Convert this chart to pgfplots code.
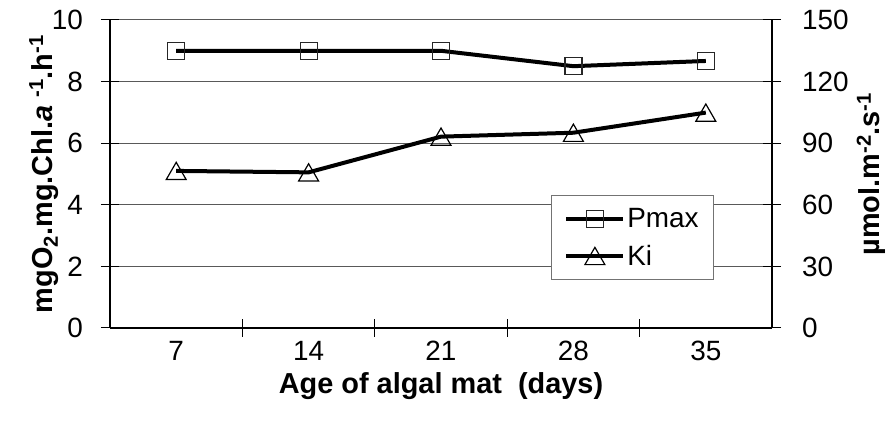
\documentclass[border=0pt]{standalone}
\usepackage{fontspec}
\setmainfont{Liberation Sans}
\usepackage{pgfplots}
\pgfplotsset{compat=1.18}
\begin{document}
\begin{tikzpicture}
\path[use as bounding box] (0bp,0bp) rectangle (890bp,432bp);
\pgfplotsset{
 common/.style={
  at={(110bp,104bp)}, anchor=south west,
  scale only axis, width=662bp, height=308bp,
  xmin=0.5, xmax=5.5,
  /pgf/number format/assume math mode=true,
  tick align=center, major tick length=18bp, minor tick length=18bp,
  every tick/.style={black, line width=1bp},
  axis line style={black, line width=1.2bp},
  tick label style={font=\fontsize{28}{32}\selectfont, inner sep=0pt},
  label style={font=\bfseries\fontsize{29}{34}\selectfont},
  legend image code/.code={\draw[mark repeat=2,mark phase=2,##1] plot coordinates {(0bp,0bp) (28.5bp,0bp) (57bp,0bp)};},
 },
 pmaxstyle/.style={black, line width=4bp, mark=square, mark size=8.5bp, mark options={line width=1.2bp, fill=none, draw=black!85}},
 kistyle/.style={black, line width=4bp, mark=triangle, mark size=11.5bp, mark options={line width=1.2bp, fill=none, draw=black, yshift=-2.9bp}},
}
\begin{axis}[common,
  axis x line*=bottom, axis y line*=left,
  ymin=0, ymax=10, ytick={0,2,...,10},
  xtick={1,...,5}, xticklabels={7,14,21,28,35},
  major x tick style={draw=none},
  minor xtick={1.5,2.5,3.5,4.5},
  ymajorgrids, grid style={black!65, line width=1bp},
  yticklabel style={anchor=east}, yticklabel shift=18bp,
  xticklabel style={anchor=center}, xticklabel shift=14bp,
  xlabel={Age of algal mat\ \ (days)},
  ylabel={mgO\textsubscript{2}.mg.Chl.\textit{a} \textsuperscript{-1}.h\textsuperscript{-1}},
  xlabel style={at={(axis description cs:0.5,-0.19)}, anchor=center},
  ylabel style={at={(axis description cs:-0.10,0.5)}, anchor=center},
]
\addplot[pmaxstyle] coordinates {(1,9.0) (2,9.0) (3,9.0) (4,8.5) (5,8.67)};
\end{axis}
\begin{axis}[common,
  axis y line*=right, axis x line=none,
  ymin=0, ymax=150, ytick={0,30,...,150},
  yticklabel style={anchor=west}, yticklabel shift=21bp,
  ylabel={µmol.m\textsuperscript{-2}.s\textsuperscript{-1}},
  ylabel style={at={(axis description cs:1.150,0.5)}, anchor=center, rotate=0},
  legend cell align=left,
  legend style={at={(axis description cs:0.666,0.432)}, anchor=north west,
    draw=black!55, line width=1bp, fill=white,
    font=\fontsize{28}{32}\selectfont,
    inner xsep=13bp, inner ysep=11bp, row sep=12bp},
]
\addlegendimage{pmaxstyle}
\addlegendentry{Pmax\hspace{30bp}}
\addplot[kistyle] coordinates {(1,76.5) (2,75.8) (3,93.2) (4,95.1) (5,104.9)};
\addlegendentry{Ki}
\end{axis}
\end{tikzpicture}
\end{document}
